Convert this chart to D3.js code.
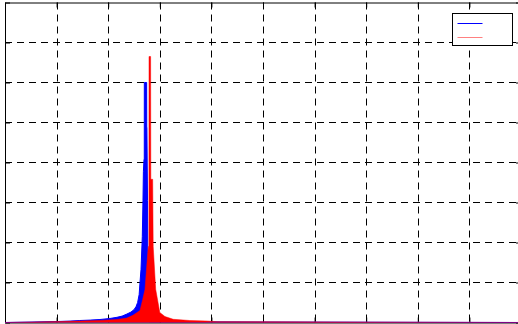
<!DOCTYPE html>
<html>
<head>
<meta charset="utf-8">
<script src="https://cdn.jsdelivr.net/npm/d3@7"></script>
<style>
  body { margin: 0; background: #fff; }
  svg { display: block; }
</style>
</head>
<body>
<svg width="518" height="324"></svg>
<script>
const blueColor = "#0000ff";
const redColor = "#ff0000";

// x ticks 0..10, y ticks 0..8 (labels are cropped off in the picture)
const xTicks = [0, 1, 2, 3, 4, 5, 6, 7, 8, 9, 10];
const yTicks = [0, 1, 2, 3, 4, 5, 6, 7, 8];

// series 1 (blue): x positions and heights
const blueX = [0, 1.02, 1.26, 1.45, 1.65, 1.84, 2.03, 2.17, 2.27, 2.36, 2.44, 2.50, 2.54, 2.57,
    2.60, 2.616, 2.636, 2.661, 2.674, 2.682, 2.694, 2.699, 2.700, 2.745, 2.747, 2.750, 2.762, 2.771, 2.791, 10];
const blueY = [0, 0.025, 0.035, 0.05, 0.06, 0.075, 0.10, 0.13, 0.16, 0.21, 0.26, 0.32, 0.40, 0.50,
    0.70, 1.00, 1.33, 2.15, 3.05, 3.78, 4.08, 4.08, 6.00, 6.00, 4.88, 4.88, 3.05, 0.58, 0.02, 0];

// series 2 (red)
const redX = [0, 1.10, 1.45, 1.84, 2.17, 2.36, 2.48, 2.56, 2.616, 2.669, 2.713, 2.752, 2.777, 2.789,
    2.791, 2.822, 2.826, 2.862, 2.872, 2.92, 3.00, 3.10, 3.26, 3.58, 3.88, 4.11, 10];
const redY = [0, 0.025, 0.035, 0.05, 0.075, 0.11, 0.18, 0.25, 0.30, 0.58, 0.83, 1.50, 1.90, 1.90,
    6.65, 6.65, 3.58, 3.58, 1.90, 0.83, 0.25, 0.15, 0.08, 0.05, 0.04, 0.02, 0];

let svg = d3.select("svg");

const box = {left: 5, top: 2.5, right: 521, bottom: 322.5};

let x = d3.scaleLinear().domain([0, 10]).range([box.left, box.right]);
let y = d3.scaleLinear().domain([0, 8]).range([box.bottom, box.top]);

// grid
let grid = svg.append("g").attr("class", "grid");
grid.selectAll(".vgrid")
    .data(xTicks.slice(1, -1)).enter()
    .append("line")
    .attr("class", "vgrid")
    .attr("x1", d => Math.round(x(d)) + 0.5)
    .attr("x2", d => Math.round(x(d)) + 0.5)
    .attr("y1", box.top)
    .attr("y2", box.bottom)
    .attr("stroke", "#000")
    .attr("stroke-dasharray", "7,5");
grid.selectAll(".hgrid")
    .data(yTicks.slice(1, -1)).enter()
    .append("line")
    .attr("class", "hgrid")
    .attr("x1", box.left)
    .attr("x2", box.right)
    .attr("y1", d => y(d))
    .attr("y2", d => y(d))
    .attr("stroke", "#000")
    .attr("stroke-dasharray", "7,5");

// axes box, ticks inside on all sides, no labels
let axisBottom = d3.axisBottom(x).tickValues(xTicks).tickSizeInner(-5).tickSizeOuter(0).tickFormat("");
let axisTop = d3.axisTop(x).tickValues(xTicks).tickSizeInner(-5).tickSizeOuter(0).tickFormat("");
let axisLeft = d3.axisLeft(y).tickValues(yTicks).tickSizeInner(-5).tickSizeOuter(0).tickFormat("");
let axisRight = d3.axisRight(y).tickValues(yTicks).tickSizeInner(-5).tickSizeOuter(0).tickFormat("");

let axes = svg.append("g").attr("class", "axes");
axes.append("g").attr("transform", "translate(0," + box.top + ")").call(axisTop);
axes.append("g").attr("transform", "translate(0," + box.bottom + ")").call(axisBottom);
axes.append("g").attr("transform", "translate(" + box.left + ",0)").call(axisLeft);
axes.append("g").attr("transform", "translate(" + box.right + ",0)").call(axisRight);
axes.selectAll(".domain").attr("stroke", "#000").attr("stroke-width", 1);
axes.selectAll(".tick line").attr("stroke", "#000");

// series
function drawSeries(xs, ys, color, lineOpacity) {
    let pts = d3.zip(xs, ys);
    let area = d3.area()
        .x(d => x(d[0]))
        .y0(y(0))
        .y1(d => y(d[1]));
    let line = d3.line()
        .x(d => x(d[0]))
        .y(d => y(d[1]));
    svg.append("path")
        .datum(pts)
        .attr("d", area)
        .attr("fill", color);
    svg.append("path")
        .datum(pts)
        .attr("d", line)
        .attr("fill", "none")
        .attr("stroke", color)
        .attr("stroke-opacity", lineOpacity)
        .attr("stroke-width", 1);
}

drawSeries(blueX, blueY, blueColor, 1);
drawSeries(redX, redY, redColor, 0.5);

// legend (entries have no text)
let legend = svg.append("g").attr("class", "legend").attr("transform", "translate(452.5,13.5)");
legend.append("rect")
    .attr("width", 60).attr("height", 32)
    .attr("fill", "#fff").attr("stroke", "#000").attr("stroke-width", 1);
legend.append("path")
    .attr("d", "M5,10H30")
    .style("stroke", blueColor).style("stroke-width", "1px");
legend.append("path")
    .attr("d", "M5,24H30")
    .style("stroke", "#ff8080").style("stroke-width", "1px");
</script>
</body>
</html>
